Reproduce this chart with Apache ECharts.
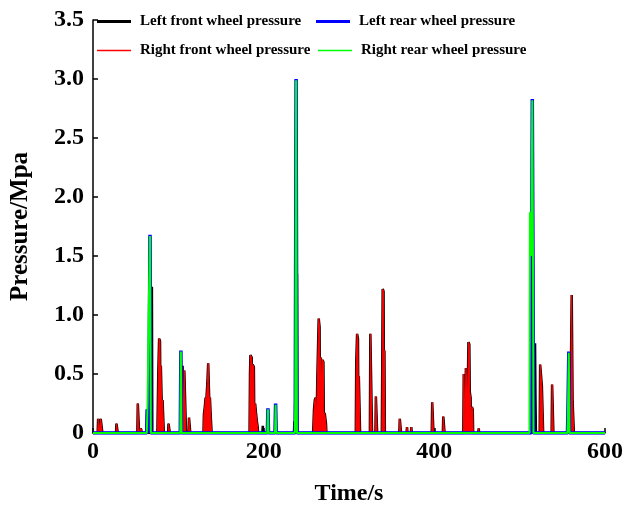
<!DOCTYPE html>
<html>
<head>
<meta charset="utf-8">
<script src="https://cdn.jsdelivr.net/npm/echarts@6/dist/echarts.min.js"></script>
<style>
  html, body { margin: 0; padding: 0; background: #fff; }
  #chart { width: 641px; height: 506px; }
</style>
</head>
<body>
<div id="chart"></div>
<script>
// tick labels
const xTicks = [0, 200, 400, 600]
const yTicks = [0, 0.5, 1.0, 1.5, 2.0, 2.5, 3.0, 3.5]

// [time (s), pressure (MPa)]
const leftFront = [
  [0, 0], [5.5, 0], [6, 0.12], [7.5, 0.12], [8, 0.02], [9, 0.12], [10.5, 0.11], [11, 0],
  [27, 0], [27.5, 0.08], [28.5, 0.08], [29, 0],
  [52, 0], [52.5, 0.25], [53.5, 0.24], [54, 0], [55.5, 0], [56, 0.04], [57, 0.03], [57.5, 0],
  [63, 0], [63.5, 0.2], [64, 0], [68.5, 0], [69, 1.24], [69.5, 0],
  [75.5, 0], [76.5, 0.5], [77.5, 0.8], [78.5, 0.78], [79, 0.3], [79.5, 0.57], [80.5, 0.56], [81, 0.1], [81.5, 0.28], [82.5, 0.27], [83, 0],
  [88, 0], [88.5, 0.08], [89.5, 0.08], [90, 0],
  [104.5, 0], [105, 0.57], [106, 0.56], [106.5, 0.1], [107, 0.53], [108.5, 0.52], [109, 0],
  [112, 0], [112.5, 0.13], [113.5, 0.13], [114, 0],
  [129.5, 0], [130, 0.16], [131, 0.22], [132, 0.3], [132.5, 0.05], [133, 0.3], [134, 0.42], [135, 0.59], [136, 0.58], [136.5, 0.2], [137, 0.3], [138, 0.14], [138.5, 0.14], [139, 0],
  [183.5, 0], [184, 0.5], [184.5, 0.66], [186, 0.64], [186.5, 0.2], [187, 0.58], [188.5, 0.56], [189, 0.1], [190, 0.25], [191, 0.17], [192, 0.1], [193, 0.05], [193.5, 0],
  [198.5, 0], [199, 0.06], [199.5, 0],
  [235.5, 0], [236, 0.1], [236.5, 0], [238.5, 0], [239, 1.35], [239.5, 0],
  [258, 0], [259, 0.2], [260, 0.28], [261, 0.3], [262, 0.1], [263, 0.5], [264.5, 0.97], [265.5, 0.9], [266, 0.2], [267, 0.64], [268, 0.4], [269, 0.62], [270, 0.6], [270.5, 0.1], [271.5, 0.17], [273, 0.08], [273.5, 0],
  [308, 0], [308.5, 0.6], [309.5, 0.84], [310.5, 0.8], [311, 0.1], [311.5, 0.48], [312.5, 0.47], [313, 0],
  [324.5, 0], [325, 0.84], [326.5, 0.85], [327, 0],
  [331, 0], [331.5, 0.31], [332.5, 0.3], [333, 0],
  [338.5, 0], [339, 0.6], [339.5, 1.22], [340.5, 1.2], [341, 0.3], [341.5, 0.7], [342, 0],
  [359, 0], [359.5, 0.12], [360.5, 0.11], [361, 0],
  [367.5, 0], [368, 0.05], [368.5, 0], [372.5, 0], [373, 0.05], [373.5, 0],
  [397, 0], [397.5, 0.26], [398.5, 0.25], [399, 0],
  [410, 0], [410.5, 0.14], [411.5, 0.13], [412, 0],
  [434, 0], [434.5, 0.5], [435.5, 0.49], [436, 0.1], [437, 0.55], [438, 0.56], [439, 0.3], [440, 0.77], [441, 0.75], [441.5, 0.35], [442.5, 0.3], [443, 0.1], [444, 0.22], [445, 0.2], [445.5, 0],
  [451.5, 0], [452, 0.04], [452.5, 0],
  [517.5, 0], [518, 0.76], [518.5, 0.3], [519, 0],
  [523.5, 0], [524, 0.58], [525.5, 0.57], [526, 0.4], [527, 0.41], [527.5, 0],
  [537.5, 0], [538, 0.41], [539, 0.4], [539.5, 0],
  [559.5, 0], [560, 0.5], [561, 1.17], [561.5, 1.16], [562, 0.27], [563, 0.26], [563.5, 0],
  [600, 0]
]

const rightFront = [
  [0, 0], [5.5, 0], [6, 0.12], [7.5, 0.12], [8, 0.02], [9, 0.12], [10.5, 0.11], [11, 0],
  [27, 0], [27.5, 0.08], [28.5, 0.08], [29, 0],
  [52, 0], [52.5, 0.25], [53.5, 0.24], [54, 0], [55.5, 0], [56, 0.04], [57, 0.03], [57.5, 0],
  [63, 0], [63.5, 0.2], [64, 0],
  [75.5, 0], [76.5, 0.5], [77.5, 0.8], [78.5, 0.78], [79, 0.3], [79.5, 0.57], [80.5, 0.56], [81, 0.1], [81.5, 0.28], [82.5, 0.27], [83, 0],
  [88, 0], [88.5, 0.08], [89.5, 0.08], [90, 0],
  [104.5, 0], [105, 0.57], [106, 0.56], [106.5, 0.1], [107, 0.53], [108.5, 0.52], [109, 0],
  [112, 0], [112.5, 0.13], [113.5, 0.13], [114, 0],
  [129.5, 0], [130, 0.16], [131, 0.22], [132, 0.3], [132.5, 0.05], [133, 0.3], [134, 0.42], [135, 0.59], [136, 0.58], [136.5, 0.2], [137, 0.3], [138, 0.14], [138.5, 0.14], [139, 0],
  [183.5, 0], [184, 0.5], [184.5, 0.66], [186, 0.64], [186.5, 0.2], [187, 0.58], [188.5, 0.56], [189, 0.1], [190, 0.25], [191, 0.17], [192, 0.1], [193, 0.05], [193.5, 0],
  [258, 0], [259, 0.2], [260, 0.28], [261, 0.3], [262, 0.1], [263, 0.5], [264.5, 0.97], [265.5, 0.9], [266, 0.2], [267, 0.64], [268, 0.4], [269, 0.62], [270, 0.6], [270.5, 0.1], [271.5, 0.17], [273, 0.08], [273.5, 0],
  [308, 0], [308.5, 0.6], [309.5, 0.84], [310.5, 0.8], [311, 0.1], [311.5, 0.48], [312.5, 0.47], [313, 0],
  [324.5, 0], [325, 0.84], [326.5, 0.85], [327, 0],
  [331, 0], [331.5, 0.31], [332.5, 0.3], [333, 0],
  [338.5, 0], [339, 0.6], [339.5, 1.22], [340.5, 1.2], [341, 0.3], [341.5, 0.7], [342, 0],
  [359, 0], [359.5, 0.12], [360.5, 0.11], [361, 0],
  [367.5, 0], [368, 0.05], [368.5, 0], [372.5, 0], [373, 0.05], [373.5, 0],
  [397, 0], [397.5, 0.26], [398.5, 0.25], [399, 0],
  [410, 0], [410.5, 0.14], [411.5, 0.13], [412, 0],
  [434, 0], [434.5, 0.5], [435.5, 0.49], [436, 0.1], [437, 0.55], [438, 0.56], [439, 0.3], [440, 0.77], [441, 0.75], [441.5, 0.35], [442.5, 0.3], [443, 0.1], [444, 0.22], [445, 0.2], [445.5, 0],
  [451.5, 0], [452, 0.04], [452.5, 0],
  [523.5, 0], [524, 0.58], [525.5, 0.57], [526, 0.4], [527, 0.41], [527.5, 0],
  [537.5, 0], [538, 0.41], [539, 0.4], [539.5, 0],
  [559.5, 0], [560, 0.5], [561, 1.17], [561.5, 1.16], [562, 0.27], [563, 0.26], [563.5, 0],
  [600, 0]
]

const leftRear = [
  [0, 0], [63, 0], [63.5, 0.2], [64.5, 0.2], [65, 0], [65.5, 0.2], [66.8, 1.68], [67.8, 0],
  [102.3, 0], [103, 0.7], [103.7, 0],
  [204.3, 0], [205, 0.21], [205.7, 0],
  [213.3, 0], [214, 0.25], [214.7, 0],
  [237, 0], [238, 3.0], [239, 0],
  [513.5, 0], [514, 1.4], [514.8, 2.83], [515.6, 1.5], [516.2, 0],
  [556, 0], [556.5, 0.15], [557.6, 0.69], [558.4, 0],
  [600, 0]
]

const rightRear = [
  [0, 0], [63, 0], [64, 0.25], [65.5, 1.14], [66.8, 1.67], [67.8, 0],
  [102.3, 0], [103, 0.69], [103.7, 0],
  [204.3, 0], [205, 0.2], [205.7, 0],
  [213.3, 0], [214, 0.24], [214.7, 0],
  [236.5, 0], [237, 0.25], [238, 2.99], [239, 0],
  [511.5, 0], [512, 1.87], [513.5, 1.5], [514.8, 2.82], [515.6, 1.52], [516.2, 0],
  [556, 0], [556.5, 0.15], [557.6, 0.68], [558.4, 0],
  [600, 0]
]

const names = [
  'Left front wheel pressure',
  'Left rear wheel pressure',
  'Right front wheel pressure',
  'Right rear wheel pressure'
]
const colors = ['#000000', '#0000ff', '#ff0000', '#00ff00']

const font = "'Liberation Serif', 'Times New Roman', serif"

const chart = echarts.init(document.getElementById('chart'))

function legendAt(i, left, top, h) {
  return {
    left: left,
    top: top,
    data: [{ name: names[i], icon: 'rect', itemStyle: { color: colors[i] } }],
    itemWidth: 34,
    itemHeight: h,
    itemGap: 0,
    selectedMode: false,
    textStyle: { fontFamily: font, fontWeight: 'bold', fontSize: 15, color: '#000', padding: [0, 0, 0, 4] }
  }
}

const option = {
  animation: false,
  backgroundColor: '#fff',
  grid: { left: 93, right: 36, top: 20, bottom: 73, outerBoundsMode: 'none', containLabel: false },
  legend: [
    legendAt(0, 92, 9, 3),
    legendAt(1, 311, 9, 3),
    legendAt(2, 92, 38, 1.5),
    legendAt(3, 313, 38, 1.5)
  ],
  xAxis: {
    type: 'value',
    min: 0,
    max: 600,
    interval: 200,
    name: 'Time/s',
    nameLocation: 'middle',
    nameGap: 49,
    nameTextStyle: { fontFamily: font, fontWeight: 'bold', fontSize: 24, color: '#000' },
    axisLine: { lineStyle: { color: '#000', width: 1.5 } },
    axisTick: { inside: true, length: 5, lineStyle: { color: '#000', width: 1.5 } },
    axisLabel: {
      fontFamily: font, fontWeight: 'bold', fontSize: 24, color: '#000', margin: 7,
      formatter: v => xTicks.includes(v) ? String(v) : ''
    },
    splitLine: { show: false }
  },
  yAxis: {
    type: 'value',
    min: 0,
    max: 3.5,
    interval: 0.5,
    name: 'Pressure/Mpa',
    nameLocation: 'middle',
    nameRotate: 90,
    nameGap: 60,
    nameTextStyle: { fontFamily: font, fontWeight: 'bold', fontSize: 25, color: '#000' },
    axisLine: { show: true, lineStyle: { color: '#000', width: 1.5 } },
    axisTick: { show: true, inside: true, length: 5, lineStyle: { color: '#000', width: 1.5 } },
    axisLabel: {
      fontFamily: font, fontWeight: 'bold', fontSize: 24, color: '#000', margin: 9,
      formatter: v => {
        const t = yTicks.find(y => Math.abs(y - v) < 1e-9)
        if (t === undefined) return ''
        return t === 0 ? '0' : t.toFixed(1)
      }
    },
    splitLine: { show: false }
  },
  series: [
    {
      name: names[0], type: 'line', data: leftFront, showSymbol: false, z: 2,
      lineStyle: { color: colors[0], width: 2.5 }, itemStyle: { color: colors[0] }
    },
    {
      name: names[2], type: 'line', data: rightFront, showSymbol: false, z: 3,
      lineStyle: { color: colors[2], width: 1 }, itemStyle: { color: colors[2] },
      areaStyle: { color: colors[2], opacity: 1 }
    },
    {
      name: names[1], type: 'line', data: leftRear, showSymbol: false, z: 4,
      lineStyle: { color: colors[1], width: 3.5 }, itemStyle: { color: colors[1] }
    },
    {
      name: names[3], type: 'line', data: rightRear, showSymbol: false, z: 5,
      lineStyle: { color: colors[3], width: 2 }, itemStyle: { color: colors[3] }
    }
  ]
}

chart.setOption(option)
</script>
</body>
</html>
